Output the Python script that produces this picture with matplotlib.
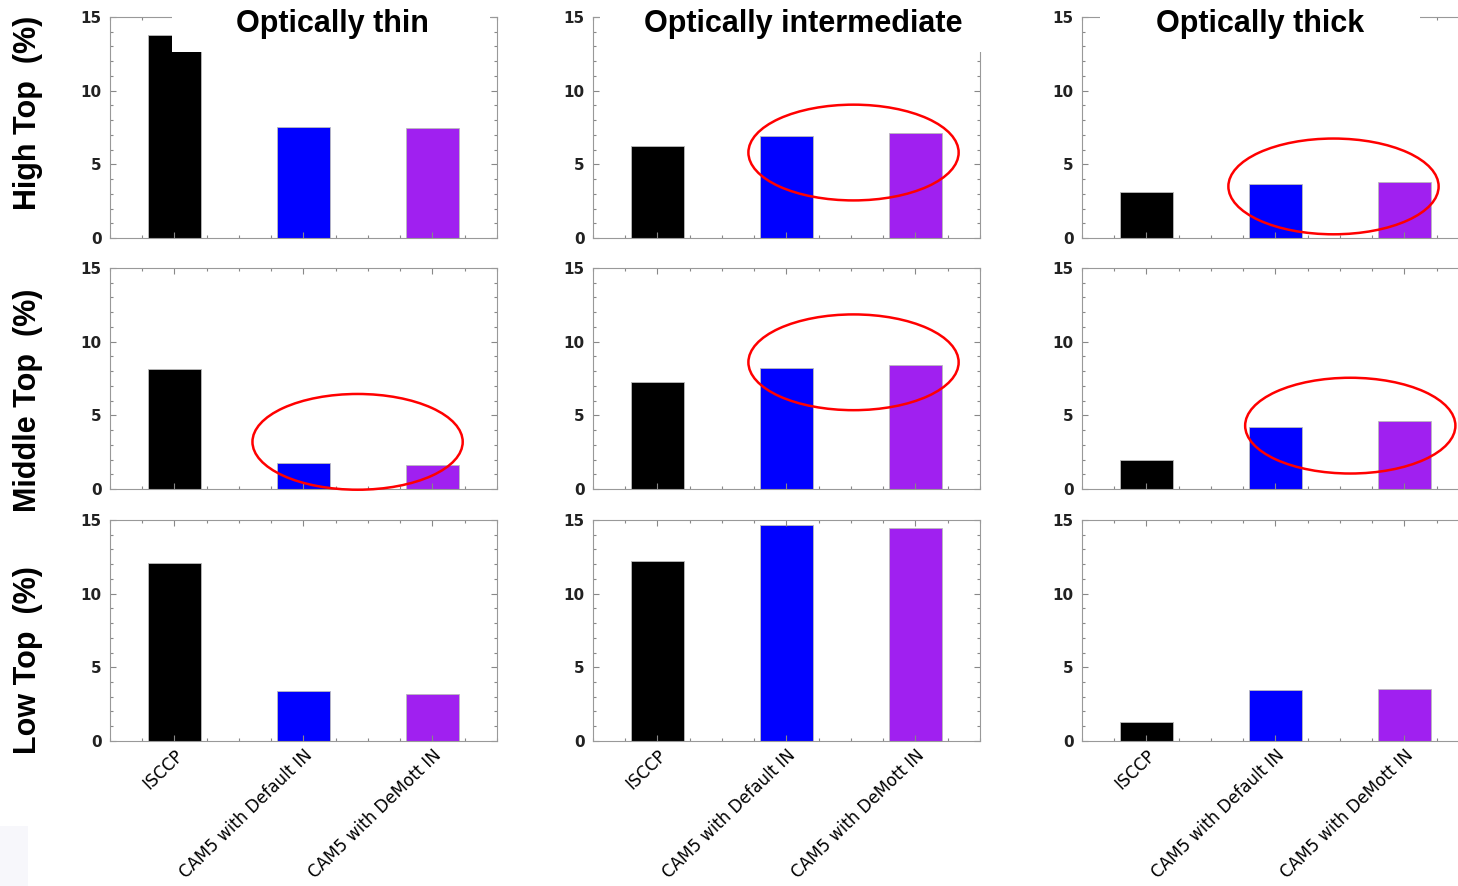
import matplotlib.pyplot as plt
from matplotlib.patches import Ellipse, Rectangle
from matplotlib.ticker import MultipleLocator, FixedLocator

# categories and panel labels
sources = ['ISCCP', 'CAM5 with Default IN', 'CAM5 with DeMott IN']
columns = ['Optically thin', 'Optically intermediate', 'Optically thick']
rows = ['High Top  (%)', 'Middle Top  (%)', 'Low Top  (%)']

# cloud fraction (%) per row (high, middle, low), per column (thin, interm., thick)
isccp = [[13.8, 6.25, 3.1],
         [8.15, 7.25, 2.0],
         [12.1, 12.2, 1.3]]
cam5_default = [[7.5, 6.9, 3.65],
                [1.75, 8.2, 4.2],
                [3.4, 14.65, 3.45]]
cam5_demott = [[7.45, 7.1, 3.8],
               [1.6, 8.4, 4.6],
               [3.2, 14.45, 3.5]]

colors = ['black', '#0000ff', '#a020f0']

# red ellipses: (row, col, x centre, y centre, width, height) in data units
ellipses = [(0, 1, 2.52, 5.8, 1.63, 6.5),
            (0, 2, 2.45, 3.5, 1.63, 6.5),
            (1, 0, 2.42, 3.2, 1.63, 6.5),
            (1, 1, 2.52, 8.6, 1.63, 6.5),
            (1, 2, 2.58, 4.3, 1.63, 6.5)]

W, H = 1458, 886
fig = plt.figure(figsize=(W / 100, H / 100), dpi=100)

lefts = [0.0754, 0.4067, 0.7421]
bottoms = [0.7314, 0.4481, 0.1637]
w, h = 0.2654, 0.2494
x = [1, 2, 3]

axes = {}
for r in range(3):
    for c in range(3):
        ax = fig.add_axes([lefts[c], bottoms[r], w, h])
        axes[(r, c)] = ax
        vals = [isccp[r][c], cam5_default[r][c], cam5_demott[r][c]]
        ax.bar(x, vals, width=0.41, color=colors, edgecolor='#bbbbbb', linewidth=0.6)
        ax.set_xlim(0.5, 3.5)
        ax.set_ylim(0, 15)
        ax.yaxis.set_major_locator(FixedLocator([0, 5, 10, 15]))
        ax.yaxis.set_minor_locator(MultipleLocator(1))
        ax.xaxis.set_minor_locator(MultipleLocator(0.25))
        ax.tick_params(which='both', direction='in', top=True, right=True,
                       color='#888888', width=0.8)
        ax.tick_params(which='major', length=4)
        ax.tick_params(which='minor', length=2.5)
        ax.tick_params(axis='y', labelsize=11, pad=6)
        for lab in ax.get_yticklabels():
            lab.set_fontweight('bold')
            lab.set_color('#222222')
        for s in ax.spines.values():
            s.set_color('#999999')
            s.set_linewidth(0.8)
        ax.set_xticks(x)
        if r == 2:
            ax.set_xticklabels(sources, rotation=44, ha='right', va='top',
                               rotation_mode='anchor', fontsize=12,
                               family=['DejaVu Sans Condensed', 'DejaVu Sans'])
            ax.tick_params(axis='x', which='major', pad=4, length=4)
        else:
            ax.set_xticklabels([])

for (r, c, xc, yc, ew, eh) in ellipses:
    axes[(r, c)].add_patch(Ellipse((xc, yc), ew, eh, fill=False, edgecolor='red',
                                   linewidth=1.8, clip_on=False, zorder=5))

# white boxes behind the column titles (they hide part of the top frame)
title_boxes = [(172, 490), (600, 985), (1100, 1420)]
for x0, x1 in title_boxes:
    fig.add_artist(Rectangle((x0 / W, 1 - 52 / H), (x1 - x0) / W, 52 / H,
                             transform=fig.transFigure, facecolor='white',
                             edgecolor='none', zorder=10))

# faint patch in the bottom-left corner
fig.add_artist(Rectangle((0, 0), 28 / W, 60 / H, transform=fig.transFigure,
                         facecolor='#f7f7fb', edgecolor='none', zorder=10))

# column titles
title_x = [332, 803, 1260]
for t, xc in zip(columns, title_x):
    fig.text(xc / W, 1 - 24 / H, t, ha='center', va='center', fontsize=22,
             fontweight='bold', family='Liberation Sans', zorder=11)

# row labels
row_y = [113, 400, 660]
for t, yc in zip(rows, row_y):
    fig.text(28 / W, 1 - yc / H, t, ha='center', va='center', rotation=90,
             fontsize=22, fontweight='bold', family='Liberation Sans')

fig.savefig('out.png', dpi=100)
